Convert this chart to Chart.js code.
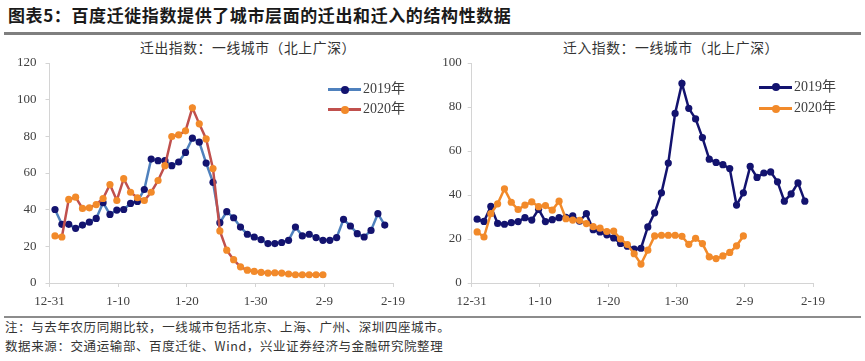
<!DOCTYPE html>
<html>
<head>
<meta charset="utf-8">
<script src="https://cdn.jsdelivr.net/npm/chart.js@4.4.1/dist/chart.umd.min.js"></script>
<style>
  html, body { margin: 0; padding: 0; background: #fff; }
  #page { position: relative; width: 865px; height: 361px; overflow: hidden; background: #fff;
          font-family: "Liberation Serif", "Noto Sans CJK SC", serif; color: #333; }
  .abs { position: absolute; white-space: nowrap; }
  .cjk { font-family: "Noto Sans CJK SC", sans-serif; }
  .wrap { position: absolute; }
  .leg { position: absolute; height: 20px; width: 90px; font-size: 14px; line-height: 20px; color: #404040; white-space: nowrap; }
  .leg .ln { position: absolute; left: 0; top: 9px; width: 33px; height: 3px; }
  .leg .mk { position: absolute; left: 13px; top: 6.5px; width: 8px; height: 8px; border-radius: 50%; }
  .leg .tx { position: absolute; left: 35px; top: 0; white-space: nowrap; }
</style>
</head>
<body>
<div id="page">
  <div class="abs cjk" style="left:8px;top:4px;font-size:17px;letter-spacing:0.6px;font-weight:bold;color:#1a1a1a;line-height:22px;">图表5：百度迁徙指数提供了城市层面的迁出和迁入的结构性数据</div>
  <div class="abs" style="left:4px;top:32px;width:857px;height:2.5px;background:#7f7f7f;"></div>

  <div class="abs cjk" id="t1" style="left:140px;top:38px;font-size:13.8px;letter-spacing:0.6px;line-height:18px;color:#333;">迁出指数：一线城市（北上广深）</div>
  <div class="abs cjk" id="t2" style="left:563px;top:38px;font-size:13.8px;letter-spacing:0.6px;line-height:18px;color:#333;">迁入指数：一线城市（北上广深）</div>

  <div class="wrap" style="left:0px;top:40px;width:430px;height:272px;"><canvas id="c1"></canvas></div>
  <div class="wrap" style="left:430px;top:40px;width:435px;height:272px;"><canvas id="c2"></canvas></div>

  <div id="leg1"></div>
  <div id="leg2"></div>

  <div class="abs" style="left:4px;top:316px;width:857px;height:1.5px;background:#8c8c8c;"></div>
  <div class="abs cjk" style="left:5px;top:318px;font-size:12.5px;letter-spacing:0.6px;line-height:18px;color:#333;">注：与去年农历同期比较，一线城市包括北京、上海、广州、深圳四座城市。</div>
  <div class="abs cjk" style="left:5px;top:337px;font-size:12.5px;letter-spacing:0.6px;line-height:18px;color:#333;">数据来源：交通运输部、百度迁徙、Wind，兴业证券经济与金融研究院整理</div>
</div>

<script>
// ---- data ----
const X_LABELS = ['12-31', '1-10', '1-20', '1-30', '2-9', '2-19'];
const SERIES_NAMES = ['2019年', '2020年'];

// 迁出指数 (out-migration index)
const OUT_2019 = [40.1, 32.0, 32.0, 29.8, 31.6, 33.2, 35.2, 43.8, 37.4, 39.8,
                  40.1, 43.4, 44.5, 51.0, 67.6, 66.7, 66.7, 64.0, 66.0, 71.2,
                  79.0, 76.8, 65.4, 54.9, 32.9, 38.9, 35.6, 30.5, 26.6, 25.1,
                  23.7, 21.5, 21.5, 22.1, 23.3, 30.5, 25.7, 26.6, 24.8, 23.3,
                  23.3, 24.8, 34.7, 31.1, 26.9, 25.1, 28.7, 37.8, 31.6];
const OUT_2020 = [25.7, 25.1, 45.6, 46.8, 40.7, 41.0, 42.8, 46.1, 53.7, 45.0,
                  56.9, 49.5, 46.5, 45.0, 49.5, 55.9, 64.0, 79.9, 80.8, 83.0,
                  95.6, 86.8, 78.6, 62.4, 28.4, 17.9, 12.7, 8.8, 7.0, 6.3,
                  5.8, 5.4, 5.6, 5.4, 4.9, 4.5, 4.5, 4.5, 4.5, 4.5];

// 迁入指数 (in-migration index)
const IN_2019 = [29.0, 28.0, 34.8, 27.1, 26.7, 27.4, 27.9, 29.7, 28.6, 33.5,
                 27.9, 28.8, 29.7, 29.8, 30.5, 28.1, 31.5, 24.2, 23.2, 21.9,
                 20.5, 18.0, 16.7, 15.4, 15.8, 25.5, 31.9, 41.0, 54.5, 77.1,
                 90.7, 79.4, 74.6, 66.1, 56.3, 54.8, 53.8, 52.0, 35.4, 41.0,
                 53.0, 48.0, 50.0, 50.5, 46.0, 37.2, 40.5, 45.5, 37.2];
const IN_2020 = [23.2, 20.9, 31.5, 36.0, 42.8, 36.7, 33.4, 35.4, 36.9, 34.7,
                 35.2, 33.1, 37.2, 29.2, 28.6, 28.5, 27.0, 25.6, 24.9, 23.4,
                 23.6, 20.0, 17.5, 13.3, 8.6, 14.9, 21.4, 21.7, 21.7, 21.7,
                 21.2, 17.6, 20.3, 17.9, 11.9, 11.1, 12.3, 13.9, 16.9, 21.4];

// ---- styling ----
const C_NAVY = '#13136f';
const C_BLUE = '#4f81bd';
const C_RED = '#c0504d';
const C_ORANGE = '#f28a2a';
const POINT_SHIFT = 0.8; // points sit centred inside each day slot (Excel date axis)

function toXY(arr) { return arr.map((v, i) => ({ x: i + POINT_SHIFT, y: v })); }

function makeChart(id, s2019, s2020, yMax, yAxisWidth, yPad, padRight, styles) {
  const tickFont = { family: '"Liberation Serif"', size: 13 };
  return new Chart(document.getElementById(id), {
    type: 'line',
    data: {
      datasets: [
        { label: SERIES_NAMES[1], data: toXY(s2020), order: 0,
          borderColor: styles.l20, backgroundColor: styles.p20, pointBackgroundColor: styles.p20,
          pointBorderColor: styles.p20, pointBorderWidth: 0, pointRadius: 3.6,
          borderWidth: 2.5, tension: 0, fill: false },
        { label: SERIES_NAMES[0], data: toXY(s2019), order: 1,
          borderColor: styles.l19, backgroundColor: styles.p19, pointBackgroundColor: styles.p19,
          pointBorderColor: styles.p19, pointBorderWidth: 0, pointRadius: 3.6,
          borderWidth: 2.5, tension: 0, fill: false }
      ]
    },
    options: {
      responsive: true, maintainAspectRatio: false, animation: false, devicePixelRatio: 1,
      layout: { padding: { top: 23, right: padRight, bottom: 0, left: 0 } },
      plugins: { legend: { display: false }, tooltip: { enabled: false }, title: { display: false } },
      scales: {
        x: {
          type: 'linear', min: 0, max: (X_LABELS.length - 1) * 10,
          afterFit: s => { s.height = 29; },
          ticks: { stepSize: 10, color: '#404040', font: tickFont, padding: 7, maxRotation: 0,
                   callback: v => X_LABELS[Math.round(v / 10)] },
          grid: { drawOnChartArea: false, drawTicks: true, tickLength: 4, color: '#d4d4d4' },
          border: { color: '#d4d4d4', width: 1 }
        },
        y: {
          min: 0, max: yMax,
          afterFit: s => { s.width = yAxisWidth; },
          ticks: { stepSize: 20, color: '#404040', font: tickFont, padding: yPad },
          grid: { drawOnChartArea: false, drawTicks: true, tickLength: 4, color: '#d4d4d4' },
          border: { color: '#d4d4d4', width: 1 }
        }
      }
    }
  });
}

function legend(el, left, tops, lineCols, markCols) {
  SERIES_NAMES.forEach((name, i) => {
    const d = document.createElement('div');
    d.className = 'leg';
    d.style.left = left + 'px';
    d.style.top = (tops[i] - 10) + 'px';
    d.innerHTML = '<div class="ln" style="background:' + lineCols[i] + '"></div>' +
                  '<div class="mk" style="background:' + markCols[i] + '"></div>' +
                  '<div class="tx">' + name + '</div>';
    el.appendChild(d);
  });
}

function build() {
  makeChart('c1', OUT_2019, OUT_2020, 120, 49.5, 9, 37,
            { l19: C_BLUE, p19: C_NAVY, l20: C_RED, p20: C_ORANGE });
  makeChart('c2', IN_2019, IN_2020, 100, 41.7, 6, 52,
            { l19: C_NAVY, p19: C_NAVY, l20: C_ORANGE, p20: C_ORANGE });
  legend(document.getElementById('leg1'), 328, [89, 109], [C_BLUE, C_RED], [C_NAVY, C_ORANGE]);
  legend(document.getElementById('leg2'), 759, [86.5, 108], [C_NAVY, C_ORANGE], [C_NAVY, C_ORANGE]);
}

if (document.fonts && document.fonts.load) {
  document.fonts.load('13px "Liberation Serif"').then(build, build);
} else {
  build();
}
</script>
</body>
</html>
